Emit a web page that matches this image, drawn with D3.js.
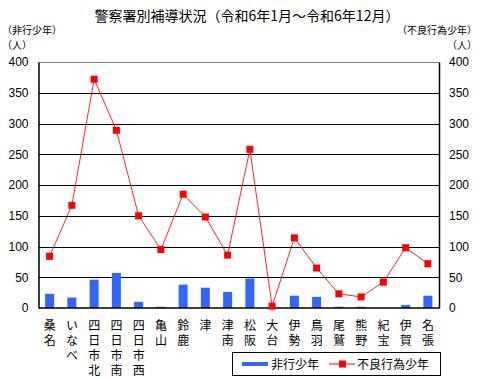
<!DOCTYPE html>
<html>
<head>
<meta charset="utf-8">
<script src="https://cdn.jsdelivr.net/npm/d3@7"></script>
<style>
  body { margin: 0; background: #fff; }
  svg { display: block; font-family: "Noto Sans CJK JP", sans-serif; }
  .vlabel { writing-mode: vertical-rl; text-orientation: upright; }
</style>
</head>
<body>
<svg width="490" height="380"></svg>
<script>
const stations = ["桑名", "いなべ", "四日市北", "四日市南", "四日市西", "亀山", "鈴鹿", "津", "津南",
  "松阪", "大台", "伊勢", "鳥羽", "尾鷲", "熊野", "紀宝", "伊賀", "名張"];
const delinquent = [23, 17, 46, 57, 10, 2, 38, 33, 26, 48, 0, 20, 18, 2, 2, 0, 5, 20];
const misconduct = [84, 167, 372, 289, 150, 95, 185, 148, 86, 258, 3, 114, 65, 23, 18, 42, 98, 72];
const yTicks = [0, 50, 100, 150, 200, 250, 300, 350, 400];

const svg = d3.select("svg");
const plotLeft = 38.5, plotRight = 439, plotTop = 62, plotBottom = 308;

const x = d3.scaleBand().domain(stations).range([plotLeft, plotRight]);
const y = d3.scaleLinear().domain([0, 400]).range([plotBottom, plotTop]);

const barColor = "#3366ff";
const lineColor = "#ff0000";

// title and unit labels
svg.append("text").attr("x", 247).attr("y", 21).attr("text-anchor", "middle")
  .attr("font-size", 14).text("警察署別補導状況（令和6年1月～令和6年12月）");
svg.append("text").attr("x", 2).attr("y", 34).attr("font-size", 10).text("（非行少年）");
svg.append("text").attr("x", 2).attr("y", 49).attr("font-size", 10).text("（人）");
svg.append("text").attr("x", 477).attr("y", 34).attr("font-size", 10)
  .attr("text-anchor", "end").text("（不良行為少年）");
svg.append("text").attr("x", 477).attr("y", 49).attr("font-size", 10)
  .attr("text-anchor", "end").text("（人）");

// gridlines
svg.append("g").selectAll("line").data(yTicks.filter(d => d > 0 && d < 400)).join("line")
  .attr("x1", plotLeft).attr("x2", plotRight)
  .attr("y1", d => Math.round(y(d)) + 0.5).attr("y2", d => Math.round(y(d)) + 0.5)
  .attr("stroke", "#000").attr("stroke-width", 1);
svg.append("line").attr("x1", plotLeft).attr("x2", plotRight)
  .attr("y1", plotTop + 0.5).attr("y2", plotTop + 0.5)
  .attr("stroke", "#808080");

// bars
svg.append("g").selectAll("rect").data(stations).join("rect")
  .attr("x", d => x(d) + x.bandwidth() / 2 - 4.5)
  .attr("width", 9)
  .attr("y", (d, i) => y(delinquent[i]))
  .attr("height", (d, i) => plotBottom - y(delinquent[i]))
  .attr("fill", barColor);

// axes
const yLeft = d3.axisLeft(y).tickValues(yTicks).tickSize(0).tickPadding(10);
const yRight = d3.axisRight(y).tickValues(yTicks).tickSize(0).tickPadding(10);
const gl = svg.append("g").attr("transform", `translate(${plotLeft},0)`).call(yLeft);
const gr = svg.append("g").attr("transform", `translate(${plotRight},0)`).call(yRight);
[gl, gr].forEach(g => {
  g.select(".domain").attr("stroke", "#000").attr("stroke-width", 1.5);
  g.selectAll("text").attr("font-size", 12).attr("fill", "#000")
    .style("font-family", "'Liberation Sans', sans-serif");
});
svg.append("line").attr("x1", plotLeft).attr("x2", plotRight)
  .attr("y1", plotBottom).attr("y2", plotBottom)
  .attr("stroke", "#000").attr("stroke-width", 1.5);

// line series
const line = d3.line().x((d, i) => x(stations[i]) + x.bandwidth() / 2).y(d => y(d));
svg.append("path").datum(misconduct).attr("d", line)
  .attr("fill", "none").attr("stroke", lineColor).attr("stroke-width", 1).attr("opacity", 0.85);
svg.append("g").selectAll("rect").data(misconduct).join("rect")
  .attr("x", (d, i) => x(stations[i]) + x.bandwidth() / 2 - 3.5)
  .attr("y", d => y(d) - 3.5)
  .attr("width", 7).attr("height", 7).attr("fill", lineColor);

// category labels, written top to bottom
svg.append("g").selectAll("text").data(stations).join("text")
  .attr("class", "vlabel")
  .attr("x", d => x(d) + x.bandwidth() / 2)
  .attr("y", 319)
  .attr("font-size", 12)
  .attr("letter-spacing", 3)
  .text(d => d);

// legend
const lg = svg.append("g");
lg.append("rect").attr("x", 232.5).attr("y", 352.5).attr("width", 208).attr("height", 23)
  .attr("fill", "#fff").attr("stroke", "#000");
lg.append("rect").attr("x", 242).attr("y", 362).attr("width", 26).attr("height", 4).attr("fill", barColor);
lg.append("text").attr("x", 271).attr("y", 368.5).attr("font-size", 12).text("非行少年");
lg.append("line").attr("x1", 329).attr("x2", 355).attr("y1", 364).attr("y2", 364)
  .attr("stroke", lineColor);
lg.append("rect").attr("x", 339).attr("y", 360.5).attr("width", 7).attr("height", 7).attr("fill", lineColor);
lg.append("text").attr("x", 357).attr("y", 368.5).attr("font-size", 12).text("不良行為少年");
</script>
</body>
</html>
